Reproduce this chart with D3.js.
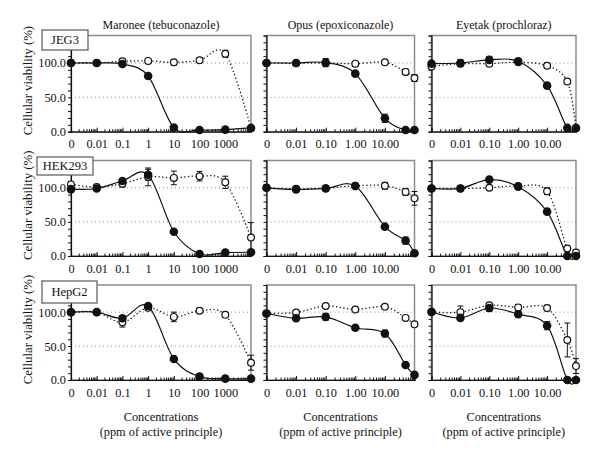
<!DOCTYPE html>
<html><head><meta charset="utf-8">
<script src="https://cdn.jsdelivr.net/npm/d3@7"></script>
<style>
body{margin:0;background:#fff} svg{display:block}
svg text{font-family:"Liberation Serif","Times New Roman","DejaVu Serif",serif !important;}
</style>
</head><body>
<svg id="chart" width="600" height="455"></svg>
<script>
// ---------- data ----------
const compounds = ["Maronee (tebuconazole)", "Opus (epoxiconazole)", "Eyetak (prochloraz)"];
const cellLines = ["JEG3", "HEK293", "HepG2"];
const concMaronee = [0, 0.01, 0.1, 1, 10, 100, 1000, 10000];
const concOther = [0, 0.01, 0.1, 1, 10, 50, 100];
const ticksMaronee = ["0", "0.01", "0.1", "1", "10", "100", "1000"];
const ticksOther = ["0", "0.01", "0.10", "1.00", "10.00"];
const yTickLabels = ["0.0", "50.0", "100.0"];
const yTickValues = [0, 50, 100];
const axisTitle = ["Concentrations", "(ppm of active principle)"];
const yTitle = "Cellular viability (%)";

// JEG3
const jeg3MaroneeFilled = [100, 100, 98.5, 81, 6, 2.5, 3, 5.5];
const jeg3MaroneeFilledErr = [2, 1, 3, 3, 1, 1, 1, 1];
const jeg3MaroneeOpen = [100, 100, 102.5, 103, 101, 104, 113.5, 5];
const jeg3MaroneeOpenErr = [2, 1, 3, 2, 4, 3, 5, 1];
const jeg3OpusFilled = [100, 100, 100.5, 84.5, 19.5, 2.5, 2.5];
const jeg3OpusFilledErr = [3, 2, 6, 3, 6, 1, 1];
const jeg3OpusOpen = [100, 99.5, 100, 99, 101, 87, 78];
const jeg3OpusOpenErr = [2, 2, 2, 2, 2, 4, 5];
const jeg3EyetakFilled = [99, 100, 104.5, 102.5, 67, 5.5, 5.5];
const jeg3EyetakFilledErr = [3, 5, 5, 4, 1, 1, 1];
const jeg3EyetakOpen = [95, 99, 99, 101, 96, 73, 5];
const jeg3EyetakOpenErr = [3, 2, 3, 2, 4, 2, 1];
// HEK293
const hek293MaroneeFilled = [98, 99, 110, 119, 35.5, 3, 5, 5.5];
const hek293MaroneeFilledErr = [5, 3, 3, 8, 2, 1, 1, 1];
const hek293MaroneeOpen = [105, 101, 106, 116, 114.5, 117, 108, 27];
const hek293MaroneeOpenErr = [3, 4, 5, 13, 10, 7, 9, 22];
const hek293OpusFilled = [100, 97.5, 99, 102.5, 43, 22.5, 4];
const hek293OpusFilledErr = [4, 4, 3, 3, 1, 5, 1];
const hek293OpusOpen = [100, 98.5, 99.5, 103, 103, 94, 84.5];
const hek293OpusOpenErr = [2, 2, 2, 2, 5, 5, 10];
const hek293EyetakFilled = [99, 99, 112, 101.5, 65, 0, 0];
const hek293EyetakFilledErr = [3, 3, 1, 3, 1, 0, 0];
const hek293EyetakOpen = [99, 99, 100, 102.5, 95, 11, 5];
const hek293EyetakOpenErr = [1, 1, 3, 2, 5, 2, 1];
// HepG2
const hepg2MaroneeFilled = [100, 100, 91, 109, 31, 5, 2, 2];
const hepg2MaroneeFilledErr = [2, 1, 4, 3, 3, 1, 1, 1];
const hepg2MaroneeOpen = [100, 100, 85, 106.5, 93, 102, 96, 25.5];
const hepg2MaroneeOpenErr = [2, 1, 7, 4, 7, 1, 3, 11];
const hepg2OpusFilled = [98, 91, 93, 77, 68.5, 22, 7.5];
const hepg2OpusFilledErr = [3, 3, 5, 3, 5, 1, 1];
const hepg2OpusOpen = [98, 99.5, 109, 104, 108, 91.5, 82];
const hepg2OpusOpenErr = [1, 2, 1, 1, 2, 2, 1];
const hepg2EyetakFilled = [100.5, 91.5, 106, 97, 80, 0, 0];
const hepg2EyetakFilledErr = [3, 3, 5, 4, 6, 0, 0];
const hepg2EyetakOpen = [100, 100, 110, 107, 106, 59, 20.5];
const hepg2EyetakOpenErr = [2, 9, 3, 4, 4, 25, 11];

const grid = [
  [[jeg3MaroneeFilled, jeg3MaroneeFilledErr, jeg3MaroneeOpen, jeg3MaroneeOpenErr],
   [jeg3OpusFilled, jeg3OpusFilledErr, jeg3OpusOpen, jeg3OpusOpenErr],
   [jeg3EyetakFilled, jeg3EyetakFilledErr, jeg3EyetakOpen, jeg3EyetakOpenErr]],
  [[hek293MaroneeFilled, hek293MaroneeFilledErr, hek293MaroneeOpen, hek293MaroneeOpenErr],
   [hek293OpusFilled, hek293OpusFilledErr, hek293OpusOpen, hek293OpusOpenErr],
   [hek293EyetakFilled, hek293EyetakFilledErr, hek293EyetakOpen, hek293EyetakOpenErr]],
  [[hepg2MaroneeFilled, hepg2MaroneeFilledErr, hepg2MaroneeOpen, hepg2MaroneeOpenErr],
   [hepg2OpusFilled, hepg2OpusFilledErr, hepg2OpusOpen, hepg2OpusOpenErr],
   [hepg2EyetakFilled, hepg2EyetakFilledErr, hepg2EyetakOpen, hepg2EyetakOpenErr]]
];

// ---------- layout ----------
const cols = [{x0: 71, x1: 251}, {x0: 266.5, x1: 414.5}, {x0: 431.5, x1: 576}];
const rows = [{top: 35.5, bottom: 131.7}, {top: 160.5, bottom: 256}, {top: 285, bottom: 380}];
const labelBoxes = [{x: 42, y: 30, w: 46, h: 20}, {x: 37, y: 157, w: 56, h: 18}, {x: 42, y: 281, w: 55, h: 22}];
const ZERO = 0.001;

const svg = d3.select("#chart");

cols.forEach((c, ci) => {
  const conc = ci === 0 ? concMaronee : concOther;
  const tickLabels = ci === 0 ? ticksMaronee : ticksOther;
  const cx = (c.x0 + c.x1) / 2;
  svg.append("text").attr("x", cx).attr("y", 29).attr("text-anchor", "middle")
    .attr("font-size", 12).attr("fill", "#111").text(compounds[ci]);
  axisTitle.forEach((t, k) => svg.append("text").attr("x", cx).attr("y", 421 + k * 15)
    .attr("text-anchor", "middle").attr("font-size", 12.3)
    .attr("fill", "#111").text(t));

  rows.forEach((r, ri) => {
    const [filled, filledErr, open, openErr] = grid[ri][ci];
    const x = d3.scaleLog().domain([ZERO, d3.max(conc)]).range([c.x0, c.x1]);
    const y = d3.scaleLinear().domain([0, 140]).range([r.bottom, r.top]);
    const xv = v => x(v === 0 ? ZERO : v);
    const g = svg.append("g");

    g.append("rect").attr("x", c.x0).attr("y", r.top).attr("width", c.x1 - c.x0)
      .attr("height", r.bottom - r.top).attr("fill", "none")
      .attr("stroke", "#8c8c8c").attr("stroke-width", 1.5);

    [50, 100].forEach(v => g.append("line").attr("x1", c.x0).attr("x2", c.x1)
      .attr("y1", y(v)).attr("y2", y(v)).attr("stroke", "#8a8a8a")
      .attr("stroke-width", 1).attr("stroke-dasharray", "1,3"));

    const ya = g.append("g").attr("transform", `translate(${c.x0},0)`)
      .call(d3.axisLeft(y).tickValues(d3.range(0, 141, 10)).tickSize(3).tickPadding(2)
        .tickFormat(d => {
          const k = yTickValues.indexOf(d);
          return ci === 0 && k >= 0 ? yTickLabels[k] : "";
        }));
    ya.select(".domain").attr("stroke", "#111").attr("stroke-width", 1.2);
    ya.selectAll(".tick line").attr("stroke", "#111");
    ya.selectAll("text").attr("font-size", 12.3).attr("fill", "#111");

    const maxV = d3.max(conc);
    const majors = [], minors = [];
    for (let d = ZERO; d < maxV * 0.999; d *= 10) {
      majors.push(d);
      for (let m = 2; m <= 9; m++) minors.push(d * m);
    }
    majors.push(maxV);
    const xa = g.append("g").attr("transform", `translate(0,${r.bottom})`)
      .call(d3.axisBottom(x).tickValues(minors).tickSize(-2.5).tickFormat(""));
    xa.select(".domain").attr("stroke", "#111").attr("stroke-width", 1.2);
    xa.selectAll(".tick line").attr("stroke", "#111");
    const xa2 = g.append("g").attr("transform", `translate(0,${r.bottom})`)
      .call(d3.axisBottom(x).tickValues(majors).tickSize(-4)
        .tickFormat((d, i) => tickLabels[i] || ""));
    xa2.select(".domain").remove();
    xa2.selectAll(".tick line").attr("stroke", "#111");
    xa2.selectAll("text").attr("y", 16.5).attr("dy", null)
      .attr("font-size", 12.3).attr("fill", "#111");

    const line = d3.line().x((d, i) => xv(conc[i])).y(d => y(d))
      .curve(d3.curveCardinal.tension(0));
    g.append("path").attr("d", line(open)).attr("fill", "none").attr("stroke", "#111")
      .attr("stroke-width", 1.3).attr("stroke-dasharray", "1.3,2.4");
    g.append("path").attr("d", line(filled)).attr("fill", "none").attr("stroke", "#111")
      .attr("stroke-width", 1.2);

    const errBars = (vals, errs) => vals.forEach((v, i) => {
      const e = errs[i];
      if (!e) return;
      const px = xv(conc[i]);
      g.append("line").attr("x1", px).attr("x2", px).attr("y1", y(v - e)).attr("y2", y(v + e))
        .attr("stroke", "#111").attr("stroke-width", 1);
      [v - e, v + e].forEach(w => g.append("line").attr("x1", px - 3).attr("x2", px + 3)
        .attr("y1", y(w)).attr("y2", y(w)).attr("stroke", "#111").attr("stroke-width", 1));
    });
    errBars(open, openErr);
    errBars(filled, filledErr);

    g.selectAll(".open").data(open).join("circle").attr("class", "open")
      .attr("cx", (d, i) => xv(conc[i])).attr("cy", d => y(d)).attr("r", 3.4)
      .attr("fill", "#fff").attr("stroke", "#111").attr("stroke-width", 1.2);
    g.selectAll(".filled").data(filled).join("circle").attr("class", "filled")
      .attr("cx", (d, i) => xv(conc[i])).attr("cy", d => y(d)).attr("r", 4.3)
      .attr("fill", "#111");
  });
});

rows.forEach((r, ri) => {
  const b = labelBoxes[ri];
  svg.append("rect").attr("x", b.x).attr("y", b.y).attr("width", b.w).attr("height", b.h)
    .attr("fill", "#fff").attr("stroke", "#666").attr("stroke-width", 1.3);
  svg.append("text").attr("x", b.x + b.w / 2).attr("y", b.y + b.h / 2 + 4.2)
    .attr("text-anchor", "middle").attr("font-size", 12.5)
    .attr("fill", "#111").text(cellLines[ri]);
  const cy = (r.top + r.bottom) / 2 - 3;
  svg.append("text").attr("transform", `translate(32,${cy}) rotate(-90)`)
    .attr("text-anchor", "middle").attr("font-size", 12.8)
    .attr("fill", "#111").text(yTitle);
});
</script>
</body></html>
